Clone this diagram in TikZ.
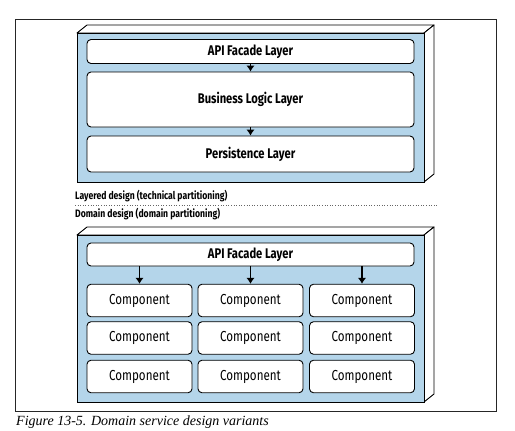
\documentclass[tikz,border=0pt]{standalone}
\usepackage{fontspec}
\usepackage{tikz}
\usetikzlibrary{arrows.meta}
\newfontfamily\diagfont[FakeStretch=0.8]{Fira Sans}
\newfontfamily\capfont{Liberation Serif}
\definecolor{boxblue}{RGB}{180,213,234}

\begin{document}
\begin{tikzpicture}[x=1pt,y=-1pt,
  layer/.style={draw,rounded corners=4pt,fill=white,line width=0.9pt,inner sep=0pt,
    minimum width=327pt,font=\diagfont\bfseries\fontsize{14}{16}\selectfont},
  comp/.style={draw,rounded corners=4pt,fill=white,line width=0.9pt,inner sep=0pt,
    minimum width=105pt,minimum height=32.5pt,font=\diagfont\fontsize{14.5}{16}\selectfont},
  front/.style={draw,line width=0.9pt,fill=boxblue},
  side/.style={draw,line width=0.9pt,fill=white,line join=round},
  title/.style={anchor=base west,inner sep=0pt,font=\diagfont\bfseries\fontsize{10.8}{12}\selectfont},
  link/.style={-{Latex[length=6pt,width=8.5pt]},black,line width=1.2pt}]
\useasboundingbox (0,0) rectangle (515,431);

% page frame
\draw[line width=0.8pt,black!85] (15.5,19) rectangle (496.5,411);

% layered design box
\draw[side] (77,33) -- (87,25) -- (434,25) -- (424,33) -- cycle;
\draw[side] (424,33) -- (434,25) -- (434,174) -- (424,182) -- cycle;
\draw[front] (77,33) rectangle (424,182);

\node[layer,minimum height=24pt] (api1) at (250.5,51.5) {API Facade Layer};
\node[layer,minimum height=55pt] (bll) at (250.5,99.5) {Business Logic Layer};
\node[layer,minimum height=36pt] (pl) at (250.5,154) {Persistence Layer};

\path[link] (api1) edge (bll);
\path[link] (bll) edge (pl);

% captions of the two designs
\node[title] (lay) at (75,199) {Layered design (technical partitioning)};
\draw[dotted,black!60,line width=0.6pt] (75,205.5) -- (437,205.5);
\node[title] (dom) at (75,217) {Domain design (domain partitioning)};

% domain design box
\draw[side] (77,235) -- (87,227) -- (434,227) -- (424,235) -- cycle;
\draw[side] (424,235) -- (434,227) -- (434,394) -- (424,402) -- cycle;
\draw[front] (77,235) rectangle (424,402);

\node[layer,minimum height=23pt] (api2) at (250.5,254.5) {API Facade Layer};

\node[comp] (c11) at (139.5,300.5) {Component};
\node[comp] (c12) at (250.5,300.5) {Component};
\node[comp] (c13) at (362,300.5) {Component};
\node[comp] (c21) at (139.5,338) {Component};
\node[comp] (c22) at (250.5,338) {Component};
\node[comp] (c23) at (362,338) {Component};
\node[comp] (c31) at (139.5,376.5) {Component};
\node[comp] (c32) at (250.5,376.5) {Component};
\node[comp] (c33) at (362,376.5) {Component};

\draw[link] (api2.south -| c11.north) -- (c11.north);
\draw[link] (api2.south -| c12.north) -- (c12.north);
\draw[link] (api2.south -| c13.north) -- (c13.north);

\node[anchor=base west,inner sep=0pt,font=\capfont\itshape\fontsize{14}{16}\selectfont] (cap) at (16,425) {Figure 13-5. Domain service design variants};
\end{tikzpicture}
\end{document}
